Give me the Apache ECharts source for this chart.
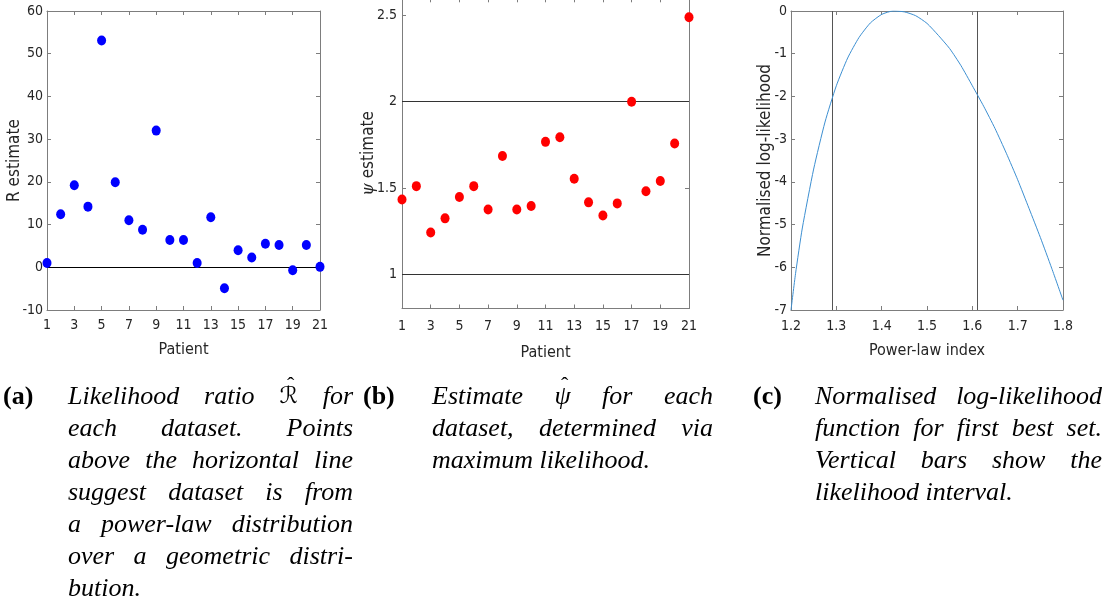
<!DOCTYPE html>
<html><head><meta charset="utf-8">
<script src="https://cdn.jsdelivr.net/npm/echarts@6/dist/echarts.min.js"></script>
<style>html,body{margin:0;padding:0;background:#fff;} #c{width:1109px;height:603px;}</style>
</head><body><div id="c"></div>
<script>
// ---------- data ----------
const patients = [1,2,3,4,5,6,7,8,9,10,11,12,13,14,15,16,17,18,19,20,21];
const rEstimate = [1.0, 12.4, 19.2, 14.2, 53.1, 19.9, 11.0, 8.8, 32.0, 6.4, 6.4, 1.0, 11.7, -4.9, 4.0, 2.3, 5.5, 5.2, -0.7, 5.2, 0.1];
const psiEstimate = [1.432, 1.51, 1.241, 1.323, 1.447, 1.51, 1.374, 1.685, 1.374, 1.395, 1.767, 1.794, 1.553, 1.416, 1.34, 1.41, 2.0, 1.48, 1.54, 1.757, 2.49];
const rRefLine = 0;
const psiRefLines = [1, 2];
const powerLawIndex = [1.200, 1.210, 1.225, 1.250, 1.275, 1.300, 1.325, 1.350, 1.375, 1.400, 1.425, 1.450, 1.475, 1.500, 1.525, 1.550, 1.575, 1.600, 1.625, 1.650, 1.675, 1.700, 1.725, 1.750, 1.775, 1.800];
const normLogLik = [-7.0, -6.15, -5.08, -3.7, -2.6, -1.75, -1.1, -0.62, -0.28, -0.08, 0.0, -0.02, -0.11, -0.29, -0.57, -0.88, -1.28, -1.75, -2.23, -2.75, -3.33, -3.95, -4.62, -5.3, -6.02, -6.77];
const likelihoodInterval = [1.294, 1.614];
const patientTicks = [1,3,5,7,9,11,13,15,17,19,21];
const psiTicks = [1, 1.5, 2, 2.5];
const indexTicks = [1.2, 1.3, 1.4, 1.5, 1.6, 1.7, 1.8];
const captionA = ["Likelihood ratio \u211B\u0302 for", "each dataset. Points", "above the horizontal line", "suggest dataset is from", "a power-law distribution", "over a geometric distri-", "bution."];
const captionB = ["Estimate \u03C8\u0302 for each", "dataset, determined via", "maximum likelihood."];
const captionC = ["Normalised log-likelihood", "function for first best set.", "Vertical bars show the", "likelihood interval."];

// ---------- styles ----------
const axisFont = "'DejaVu Sans Condensed','Liberation Sans',Arial,sans-serif";
const txtColor = '#262626';
const frameColor = '#7d7d7d';

function xAxes(grid, min, max, ticks, name, gap, margin) {
  const base = {
    type: 'value', gridIndex: grid, min: min, max: max,
    splitLine: {show: false},
    axisLine: {show: true, onZero: false, lineStyle: {color: frameColor, width: 1}},
    axisTick: {show: true, inside: true, length: 4, lineStyle: {color: frameColor}, customValues: ticks},
  };
  return [
    Object.assign({}, base, {position: 'bottom', name: name, nameLocation: 'middle', nameGap: gap, nameMoveOverlap: false,
      nameTextStyle: {fontFamily: axisFont, fontSize: 16, color: txtColor},
      axisLabel: {show: true, customValues: ticks, margin: margin, fontFamily: axisFont, fontSize: 14, color: txtColor}}),
    Object.assign({}, base, {position: 'top', axisLabel: {show: false}})
  ];
}
function yAxes(grid, min, max, ticks, interval, name, gap, margin, rich) {
  const base = {
    type: 'value', gridIndex: grid, min: min, max: max,
    splitLine: {show: false},
    axisLine: {show: true, onZero: false, lineStyle: {color: frameColor, width: 1}},
    axisTick: {show: true, inside: true, length: 4, lineStyle: {color: frameColor}},
  };
  if (ticks) base.axisTick.customValues = ticks; else base.interval = interval;
  const lab = {show: true, margin: margin, fontFamily: axisFont, fontSize: 14, color: txtColor};
  if (ticks) lab.customValues = ticks;
  const nts = {fontFamily: axisFont, fontSize: 17, color: txtColor};
  if (rich) nts.rich = rich;
  return [
    Object.assign({}, base, {position: 'left', name: name, nameLocation: 'middle', nameGap: gap, nameMoveOverlap: false, nameTextStyle: nts, axisLabel: lab}),
    Object.assign({}, base, {position: 'right', axisLabel: {show: false}})
  ];
}

const xAxis = [].concat(
  xAxes(0, 1, 21, patientTicks, 'Patient', 32, 8),
  xAxes(1, 1, 21, patientTicks, 'Patient', 36, 11),
  xAxes(2, 1.2, 1.8, indexTicks, 'Power-law index', 33, 9)
);
const yAxis = [].concat(
  yAxes(0, -10, 60, null, 10, 'R estimate', 24, 4),
  yAxes(1, 0.8, 2.6, psiTicks, null, '{i|\u03C8} estimate', 25, 5, {i: {fontStyle: 'italic', fontFamily: "'DejaVu Serif',serif", fontSize: 16, color: txtColor}}),
  yAxes(2, -7, 0, null, 1, 'Normalised log-likelihood', 17, 4)
);

// ---------- captions (justified via measured word widths) ----------
const mctx = document.createElement('canvas').getContext('2d');
const capFamily = "'Liberation Serif','DejaVu Serif',serif";
const capSize = 26;
const symFont = {fontFamily: "'DejaVu Serif','DejaVu Sans',serif", fontStyle: 'normal', fontSize: 23};
const graphic = [];
function txt(x, y, s, extra) {
  const st = Object.assign({text: s, fontFamily: capFamily, fontStyle: 'italic', fontSize: capSize, fill: '#000', align: 'left', verticalAlign: 'middle'}, extra || {});
  graphic.push({type: 'text', x: x, y: y, style: st});
}
function fontOf(w) {
  if (w === '\u211B') return symFont;
  return null;
}
function measure(w) {
  const f = fontOf(w);
  mctx.font = f ? (f.fontStyle + ' ' + f.fontSize + 'px ' + f.fontFamily) : ('italic ' + capSize + 'px ' + capFamily);
  return mctx.measureText(w).width;
}
function addCaption(label, labelX, lines, x0, width, y0, lh) {
  txt(labelX, y0, label, {fontStyle: 'normal', fontWeight: 'bold'});
  const space = measure(' ');
  lines.forEach(function (line, li) {
    const words = line.split(' ');
    const hats = words.map(function (w) { return w.indexOf('\u0302') >= 0; });
    const bases = words.map(function (w) { return w.replace('\u0302', ''); });
    const ws = bases.map(measure);
    const total = ws.reduce(function (a, b) { return a + b; }, 0);
    const last = li === lines.length - 1;
    const gap = (!last && words.length > 1) ? (width - total) / (words.length - 1) : space;
    let x = x0;
    const y = y0 + li * lh;
    bases.forEach(function (w, wi) {
      txt(x, y, w, fontOf(w));
      if (hats[wi]) {
        txt(x + ws[wi] / 2 + 2, y - 11, '\u02C6', {align: 'center', fontStyle: 'normal', fontSize: 22});
      }
      x += ws[wi] + gap;
    });
  });
}
addCaption('(a)', 3, captionA, 68, 285, 397, 32);
addCaption('(b)', 363, captionB, 432, 281, 397, 32);
addCaption('(c)', 753, captionC, 815, 287, 397, 32);

// ---------- chart ----------
const chart = echarts.init(document.getElementById('c'), null, {renderer: 'canvas'});
chart.setOption({
  animation: false,
  backgroundColor: '#fff',
  grid: [
    {left: 47, top: 11, width: 273, height: 299, outerBoundsMode: 'none', containLabel: false},
    {left: 402, top: -1.7, width: 287, height: 310.2, outerBoundsMode: 'none', containLabel: false},
    {left: 791, top: 11, width: 272, height: 299, outerBoundsMode: 'none', containLabel: false}
  ],
  xAxis: xAxis,
  yAxis: yAxis,
  series: [
    {
      type: 'scatter', xAxisIndex: 0, yAxisIndex: 0,
      data: patients.map(function (p, i) { return [p, rEstimate[i]]; }),
      symbol: 'circle', symbolSize: [9, 10], itemStyle: {color: '#0000ff', opacity: 1}, z: 3,
      markLine: {silent: true, symbol: 'none', label: {show: false}, lineStyle: {color: '#000', width: 1, type: 'solid', opacity: 1}, data: [{yAxis: rRefLine}], z: 2}
    },
    {
      type: 'scatter', xAxisIndex: 2, yAxisIndex: 2,
      data: patients.map(function (p, i) { return [p, psiEstimate[i]]; }),
      symbol: 'circle', symbolSize: [9, 10], itemStyle: {color: '#ff0000', opacity: 1}, z: 3,
      markLine: {silent: true, symbol: 'none', label: {show: false}, lineStyle: {color: '#333', width: 1, type: 'solid', opacity: 1}, data: psiRefLines.map(function (v) { return {yAxis: v}; }), z: 2}
    },
    {
      type: 'line', xAxisIndex: 4, yAxisIndex: 4,
      data: powerLawIndex.map(function (x, i) { return [x, normLogLik[i]]; }),
      showSymbol: false, smooth: 0.2, lineStyle: {color: '#3d8fd1', width: 1}, itemStyle: {color: '#3d8fd1'}, z: 3,
      markLine: {silent: true, symbol: 'none', label: {show: false}, lineStyle: {color: '#555', width: 1, type: 'solid', opacity: 1}, data: likelihoodInterval.map(function (v) { return {xAxis: v}; }), z: 2}
    }
  ],
  graphic: graphic
});
</script>
</body></html>
